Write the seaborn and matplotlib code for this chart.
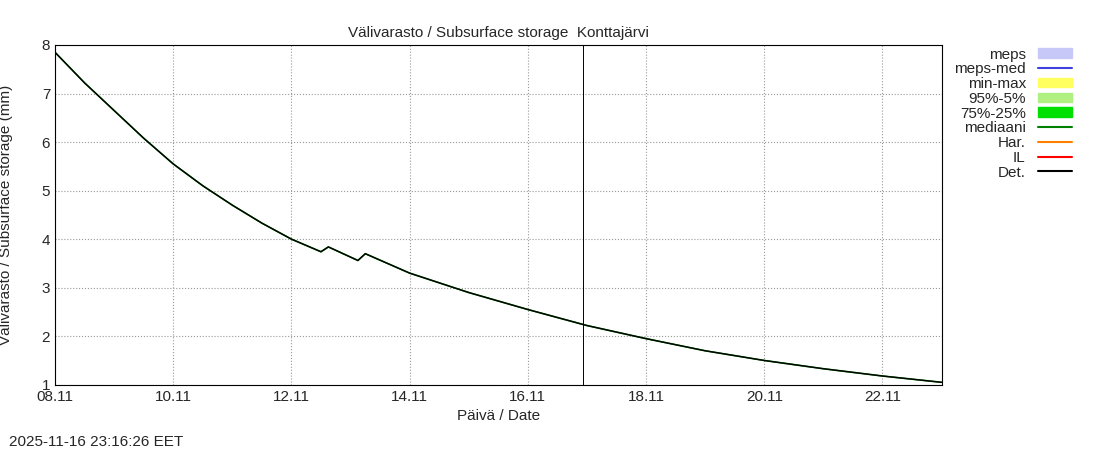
import matplotlib
matplotlib.use("Agg")
import matplotlib.pyplot as plt
import matplotlib.dates as mdates
import seaborn as sns
import pandas as pd
from matplotlib.patches import Patch
from matplotlib.lines import Line2D

# storage values
times = ["2025-11-08 00:00", "2025-11-08 12:00", "2025-11-09 00:00", "2025-11-09 12:00",
         "2025-11-10 00:00", "2025-11-10 12:00", "2025-11-11 00:00", "2025-11-11 12:00",
         "2025-11-12 00:00", "2025-11-12 12:00", "2025-11-12 15:00", "2025-11-13 03:00",
         "2025-11-13 06:00", "2025-11-14 00:00", "2025-11-15 00:00", "2025-11-16 00:00",
         "2025-11-17 00:00", "2025-11-18 00:00", "2025-11-19 00:00", "2025-11-20 00:00",
         "2025-11-21 00:00", "2025-11-22 00:00", "2025-11-23 00:00"]
storage = [7.85, 7.22, 6.65, 6.08, 5.55, 5.1, 4.7, 4.33, 4.0, 3.74, 3.84, 3.56, 3.7,
           3.3, 2.9, 2.55, 2.22, 1.95, 1.7, 1.5, 1.33, 1.18, 1.05]
forecast_start = "2025-11-16 22:30"

df = pd.DataFrame({"time": pd.to_datetime(times), "storage": storage})

sns.set_style("white")
plt.rcParams["font.family"] = ["Liberation Sans", "DejaVu Sans"]
fig = plt.figure(figsize=(11, 4.5), dpi=100)
ax = fig.add_axes([0.05, 0.145, 0.806, 0.755])

sns.lineplot(data=df, x="time", y="storage", ax=ax, color="green", lw=1.2)
sns.lineplot(data=df, x="time", y="storage", ax=ax, color="black", lw=1.0)
ax.axvline(pd.Timestamp(forecast_start), color="black", lw=0.7)

ax.set_xlim(pd.Timestamp("2025-11-08"), pd.Timestamp("2025-11-23 00:00"))
ax.set_ylim(1, 8)
ax.xaxis.set_major_locator(mdates.DayLocator(bymonthday=range(8, 31, 2)))
ax.xaxis.set_major_formatter(mdates.DateFormatter("%d.%m"))
ax.grid(True, color="#999999", linestyle=":", lw=0.8)
for s in ax.spines.values():
    s.set_color("black")
    s.set_linewidth(0.8)
ax.tick_params(labelsize=11, direction="in", length=4)
ax.set_xlabel("Päivä / Date", fontsize=11)
ax.set_ylabel("Välivarasto / Subsurface storage (mm)", fontsize=11, labelpad=2)
ax.yaxis.set_label_coords(-0.047, 0.5)
ax.set_title("Välivarasto / Subsurface storage  Konttajärvi", fontsize=11)

handles = [Patch(color="#c8c8f8"), Line2D([], [], color="#4040e0"), Patch(color="#ffff60"),
           Patch(color="#b0f080"), Patch(color="#00e000"), Line2D([], [], color="green"),
           Line2D([], [], color="#ff8000"), Line2D([], [], color="red"), Line2D([], [], color="black")]
labels = ["meps", "meps-med", "min-max", "95%-5%", "75%-25%", "mediaani", "Har.", "IL", "Det."]
fig.legend(handles, labels, loc="upper left", bbox_to_anchor=(0.855, 0.925), frameon=False,
           markerfirst=False, fontsize=11, handlelength=2.2, labelspacing=0.05,
           handleheight=0.6)
fig.text(0.008, 0.01, "2025-11-16 23:16:26 EET", fontsize=11)
fig.savefig("out.png")
